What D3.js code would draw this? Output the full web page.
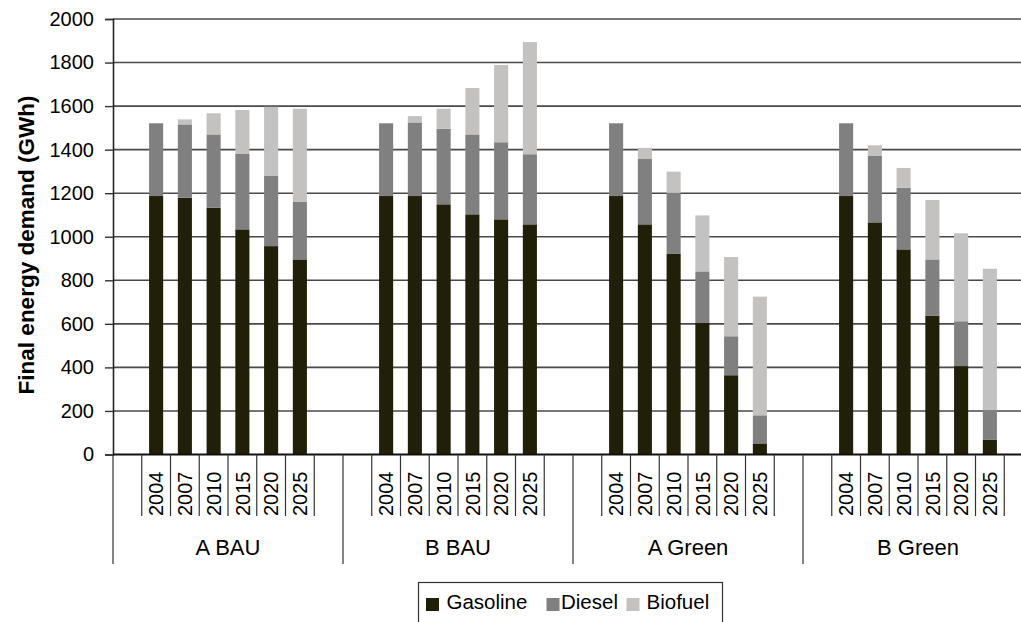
<!DOCTYPE html>
<html>
<head>
<meta charset="utf-8">
<script src="https://d3js.org/d3.v7.min.js"></script>
<style>
  html, body { margin: 0; padding: 0; background: #fff; }
  svg { display: block; font-family: "Liberation Sans", Arial, sans-serif; }
</style>
</head>
<body>
<svg id="chart" width="1021" height="622"></svg>
<script>
// ---------- data ----------
const scenarios = ["A BAU", "B BAU", "A Green", "B Green"];
const years = ["2004", "2007", "2010", "2015", "2020", "2025"];
const seriesNames = ["Gasoline", "Diesel", "Biofuel"];
const seriesColors = ["#211f07", "#808080", "#c4c2c0"];
const yTicks = [0, 200, 400, 600, 800, 1000, 1200, 1400, 1600, 1800, 2000];

// values per scenario, in order of years
const gasoline = {
  "A BAU":   [1187, 1179, 1133, 1034, 957, 896],
  "B BAU":   [1187, 1187, 1149, 1103, 1080, 1057],
  "A Green": [1187, 1057, 921, 604, 364, 51],
  "B Green": [1187, 1066, 942, 638, 406, 67]
};
const diesel = {
  "A BAU":   [334, 337, 337, 346, 322, 264],
  "B BAU":   [334, 338, 347, 367, 354, 322],
  "A Green": [334, 300, 281, 237, 179, 129],
  "B Green": [334, 305, 283, 258, 206, 137]
};
const biofuel = {
  "A BAU":   [0, 23, 97, 202, 318, 428],
  "B BAU":   [0, 29, 92, 213, 355, 515],
  "A Green": [0, 51, 97, 257, 364, 545],
  "B Green": [0, 49, 91, 273, 404, 649]
};
const seriesData = [gasoline, diesel, biofuel];

// ---------- layout ----------
const svg = d3.select("#chart");
const plotLeft = 113, plotTop = 19, plotBottom = 454.5;
const slotW = 28.75;
const slotsPerGroup = years.length + 2;
const plotRight = plotLeft + slotW * slotsPerGroup * scenarios.length;

// slot keys: blank, years, blank per scenario
const slotKeys = [];
scenarios.forEach(s => {
  slotKeys.push(s + "|pre");
  years.forEach(y => slotKeys.push(s + "|" + y));
  slotKeys.push(s + "|post");
});

const x = d3.scaleBand().domain(slotKeys).range([plotLeft, plotRight]).paddingInner(0).paddingOuter(0);
const y = d3.scaleLinear().domain([0, 2000]).range([plotBottom, plotTop]);
const groupX = d3.scaleBand().domain(scenarios).range([plotLeft, plotRight]);

// gridlines
svg.append("g")
  .selectAll("line")
  .data(yTicks.filter(t => t > 0))
  .join("line")
  .attr("x1", plotLeft).attr("x2", plotRight)
  .attr("y1", d => y(d)).attr("y2", d => y(d))
  .attr("stroke", "#4a4a4a").attr("stroke-width", 1.6);

// y axis
const yAxis = d3.axisLeft(y).tickValues(yTicks).tickSize(8).tickPadding(11).tickFormat(d3.format("d"));
const gy = svg.append("g").attr("transform", `translate(${plotLeft},0)`).call(yAxis);
gy.select(".domain").attr("stroke", "#222").attr("stroke-width", 1.6);
gy.selectAll(".tick line").attr("stroke", "#333").attr("stroke-width", 1.4);
gy.selectAll(".tick text").attr("fill", "#000").style("font-size", "20px")
  .style("font-family", "'Liberation Sans', Arial, sans-serif");

// stacked bars
const rows = [];
scenarios.forEach(s => {
  years.forEach((yr, i) => {
    let base = 0;
    seriesData.forEach((sd, k) => {
      const v = sd[s][i];
      rows.push({ key: s + "|" + yr, y0: base, y1: base + v, k });
      base += v;
    });
  });
});
const barW = x.bandwidth() * 0.49;
svg.append("g")
  .selectAll("rect")
  .data(rows.filter(r => r.y1 > r.y0))
  .join("rect")
  .attr("x", d => x(d.key) + (x.bandwidth() - barW) / 2)
  .attr("width", barW)
  .attr("y", d => y(d.y1))
  .attr("height", d => y(d.y0) - y(d.y1))
  .attr("fill", d => seriesColors[d.k]);

// x axis baseline
svg.append("line")
  .attr("x1", plotLeft).attr("x2", plotRight)
  .attr("y1", y(0)).attr("y2", y(0))
  .attr("stroke", "#111").attr("stroke-width", 1.8);

// slot separators
const slotEdges = slotKeys.map((k, i) => ({ pos: x(k), isGroup: i % slotsPerGroup === 0 }));
slotEdges.push({ pos: plotRight, isGroup: true });
svg.append("g")
  .selectAll("line")
  .data(slotEdges)
  .join("line")
  .attr("x1", d => d.pos).attr("x2", d => d.pos)
  .attr("y1", y(0))
  .attr("y2", d => d.isGroup ? 564 : 516)
  .attr("stroke", "#333").attr("stroke-width", 1.2);

// year labels
const yearLabels = [];
scenarios.forEach(s => years.forEach(yr => yearLabels.push({ key: s + "|" + yr, yr })));
svg.append("g")
  .selectAll("text")
  .data(yearLabels)
  .join("text")
  .attr("transform", d => `translate(${x(d.key) + x.bandwidth() / 2},516) rotate(-90)`)
  .attr("dy", "0.36em")
  .attr("text-anchor", "start")
  .style("font-size", "20px")
  .attr("fill", "#000")
  .text(d => d.yr);

// group labels
svg.append("g")
  .selectAll("text")
  .data(scenarios)
  .join("text")
  .attr("x", d => groupX(d) + groupX.bandwidth() / 2)
  .attr("y", 555)
  .attr("text-anchor", "middle")
  .style("font-size", "22px")
  .attr("fill", "#000")
  .text(d => d);

// y axis title
svg.append("text")
  .attr("transform", `translate(34,245) rotate(-90)`)
  .attr("text-anchor", "middle")
  .style("font-size", "22.5px")
  .style("font-weight", "bold")
  .attr("fill", "#000")
  .text("Final energy demand (GWh)");

// legend
const legend = svg.append("g");
legend.append("rect")
  .attr("x", 418.5).attr("y", 582.5).attr("width", 304).attr("height", 60)
  .attr("fill", "#fff").attr("stroke", "#333").attr("stroke-width", 1.2);
const legendSwatchX = [426, 546.5, 626.5];
const legendTextX = [446.5, 561, 646.5];
seriesNames.forEach((n, i) => {
  legend.append("rect")
    .attr("x", legendSwatchX[i]).attr("y", 598).attr("width", 13).attr("height", 13)
    .attr("fill", seriesColors[i]);
  legend.append("text")
    .attr("x", legendTextX[i]).attr("y", 608.5)
    .style("font-size", "20.5px")
    .attr("fill", "#000")
    .text(n);
});
</script>
</body>
</html>
